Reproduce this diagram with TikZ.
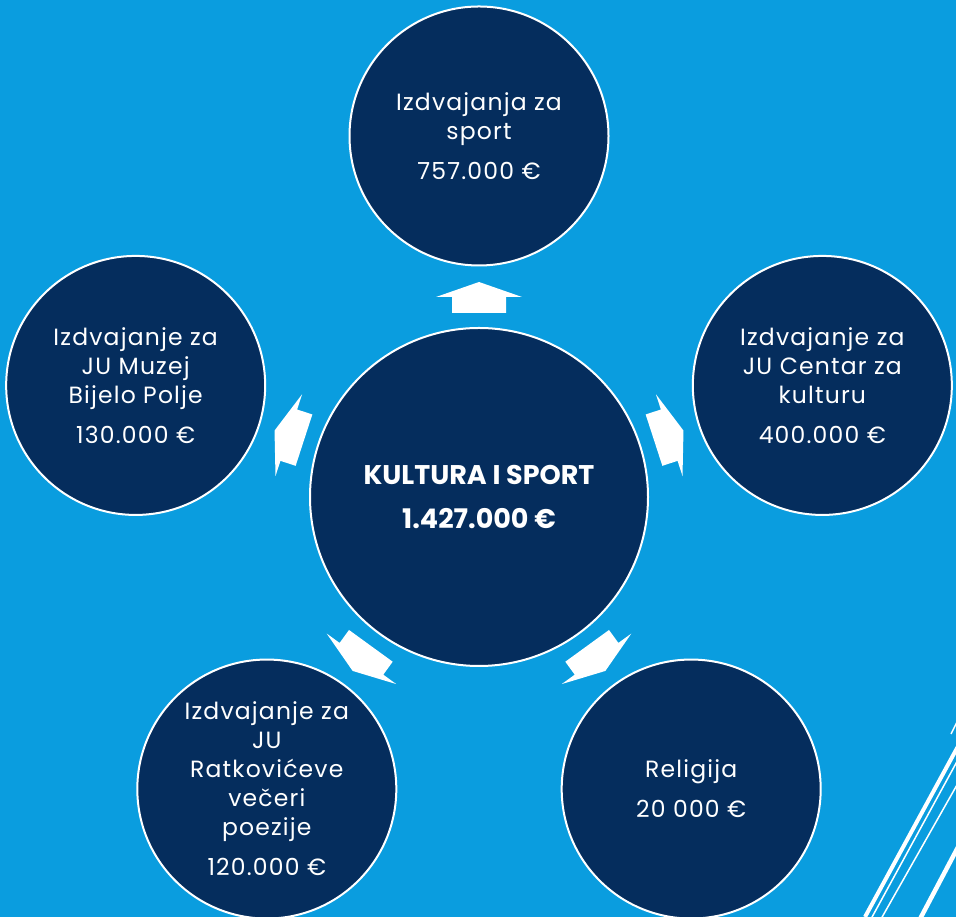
\documentclass[tikz,border=0pt]{standalone}
\usepackage{fontspec}
\setmainfont{Poppins}
\usetikzlibrary{calc}
\definecolor{bgblue}{RGB}{10,157,223}
\definecolor{navy}{RGB}{5,45,93}
\begin{document}
\begin{tikzpicture}[x=1pt,y=1pt,
  sat/.style={circle, fill=navy, draw=white, line width=2pt, minimum size=259pt,
    inner sep=0pt, text=white, align=center,
    font=\fontsize{23.5}{29}\selectfont\addfontfeature{LetterSpace=5}},
  hub/.style={circle, fill=navy, draw=white, line width=2pt, minimum size=338pt,
    inner sep=0pt, text=white, align=center,
    font=\fontsize{27}{44}\selectfont\bfseries},
  blockarrow/.style={fill=white},
  deco/.style={draw=white}]
\fill[bgblue] (0,0) rectangle (956,917);
\useasboundingbox (0,0) rectangle (956,917);

\node[hub] (c) at (479,420) {KULTURA I SPORT\\1.427.000 €};

\node[sat] (top) at ($(c.center)+(90:361pt)$) {Izdvajanja za\\sport\\[11pt]757.000 €};
\node[sat] (right) at ($(c.center)+(18:361pt)$) {Izdvajanje za\\JU Centar za\\kulturu\\[11pt]400.000 €};
\node[sat] (bright) at ($(c.center)+(-54:361pt)$) {Religija\\[11pt]20 000 €};
\node[sat] (bleft) at ($(c.center)+(-126:361pt)$) {Izdvajanje za\\JU\\Ratkovićeve\\večeri\\poezije\\[11pt]120.000 €};
\node[sat] (left) at ($(c.center)+(162:361pt)$) {Izdvajanje za\\JU Muzej\\Bijelo Polje\\[11pt]130.000 €};

\foreach \a in {90,18,-54,-126,162}{
  \fill[blockarrow, shift={(c.center)}, rotate=\a]
    (184,-27) -- (200,-27) -- (200,-43) -- (215,0) -- (200,43) -- (200,27) -- (184,27) -- cycle;
}

\begin{scope}
  \clip (0,0) rectangle (956,917);
  \draw[deco, line width=4pt] (865,0) -- (956,167) -- ++(10,18.3);
  \draw[deco, line width=1.5pt] (871,-2) -- (966,172);
  \draw[deco, line width=1.5pt] (881,-2) -- (966,148);
  \draw[deco, line width=4.5pt] (920,-2) -- (966,85);
  \draw[deco, line width=1.5pt] (951,183) -- (962,205);
\end{scope}
\end{tikzpicture}
\end{document}
